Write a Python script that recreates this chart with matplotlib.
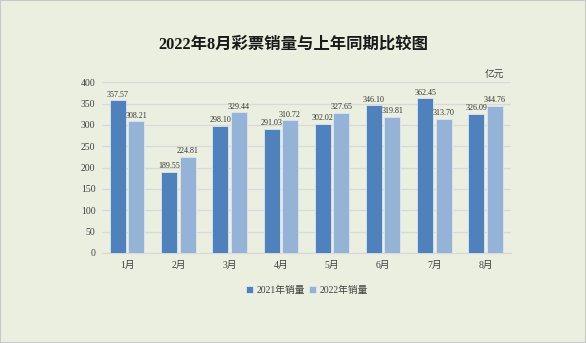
import numpy as np
import matplotlib.pyplot as plt

plt.rcParams['font.family'] = ['Liberation Serif', 'Noto Sans CJK SC', 'DejaVu Sans']

months = ['1月', '2月', '3月', '4月', '5月', '6月', '7月', '8月']
sales_2021 = [357.57, 189.55, 298.10, 291.03, 302.02, 346.10, 362.45, 326.09]
sales_2022 = [308.21, 224.81, 329.44, 310.72, 327.65, 319.81, 313.70, 344.76]
yticks = [0, 50, 100, 150, 200, 250, 300, 350, 400]

bg = '#ebefdf'
c1 = '#4f81bd'
c2 = '#95b3d7'

fig = plt.figure(figsize=(5.86, 3.43), dpi=100, facecolor=bg)
ax = fig.add_axes([101.6 / 586, 1 - 253 / 343, (511.2 - 101.6) / 586, (253 - 82.3) / 343])
ax.set_facecolor(bg)

x = np.arange(len(months))
w = 0.31
b1 = ax.bar(x - 0.18, sales_2021, w, color=c1, edgecolor='#dfe6ee', linewidth=0.6, label='2021年销量', zorder=3)
b2 = ax.bar(x + 0.18, sales_2022, w, color=c2, edgecolor='#dfe6ee', linewidth=0.6, label='2022年销量', zorder=3)

for bars, vals in ((b1, sales_2021), (b2, sales_2022)):
    for r, v in zip(bars, vals):
        ax.text(r.get_x() + r.get_width() / 2, v + 4, f'{v:.2f}', ha='center', va='bottom',
                fontsize=5.8, color='#333333')

ax.set_xlim(-0.5, len(months) - 0.5)
ax.set_ylim(0, 400)
ax.set_yticks(yticks)
ax.set_xticks(x)
ax.set_xticklabels(months)
ax.tick_params(axis='both', length=0, labelsize=7, colors='#404040')
ax.tick_params(axis='x', pad=6)
ax.tick_params(axis='y', pad=4.5)
ax.grid(axis='y', color='#d9d9d9', linewidth=0.9, zorder=0)
for s in ['top', 'right', 'left']:
    ax.spines[s].set_visible(False)
ax.spines['bottom'].set_color('#d9d9d9')
ax.spines['bottom'].set_linewidth(0.9)

fig.text(0.5, 1 - 45 / 343, '2022年8月彩票销量与上年同期比较图', ha='center', va='center',
         fontsize=11.8, fontweight='bold', color='#1a1a1a')
fig.text(494 / 586, 1 - 75 / 343, '亿元', ha='center', va='center', fontsize=7, color='#404040')

fig.legend(handles=[b1, b2], loc='center', bbox_to_anchor=(307 / 586, 1 - 290 / 343), ncol=2,
           frameon=False, fontsize=7, handlelength=0.7, handleheight=0.7, handletextpad=0.3,
           columnspacing=0.5, labelcolor='#404040')

fig.add_artist(plt.Rectangle((0, 0), 1, 1, transform=fig.transFigure, fill=False,
                             edgecolor='#c8c8c8', linewidth=1.5))

fig.savefig('out.png', dpi=100, facecolor=bg)
